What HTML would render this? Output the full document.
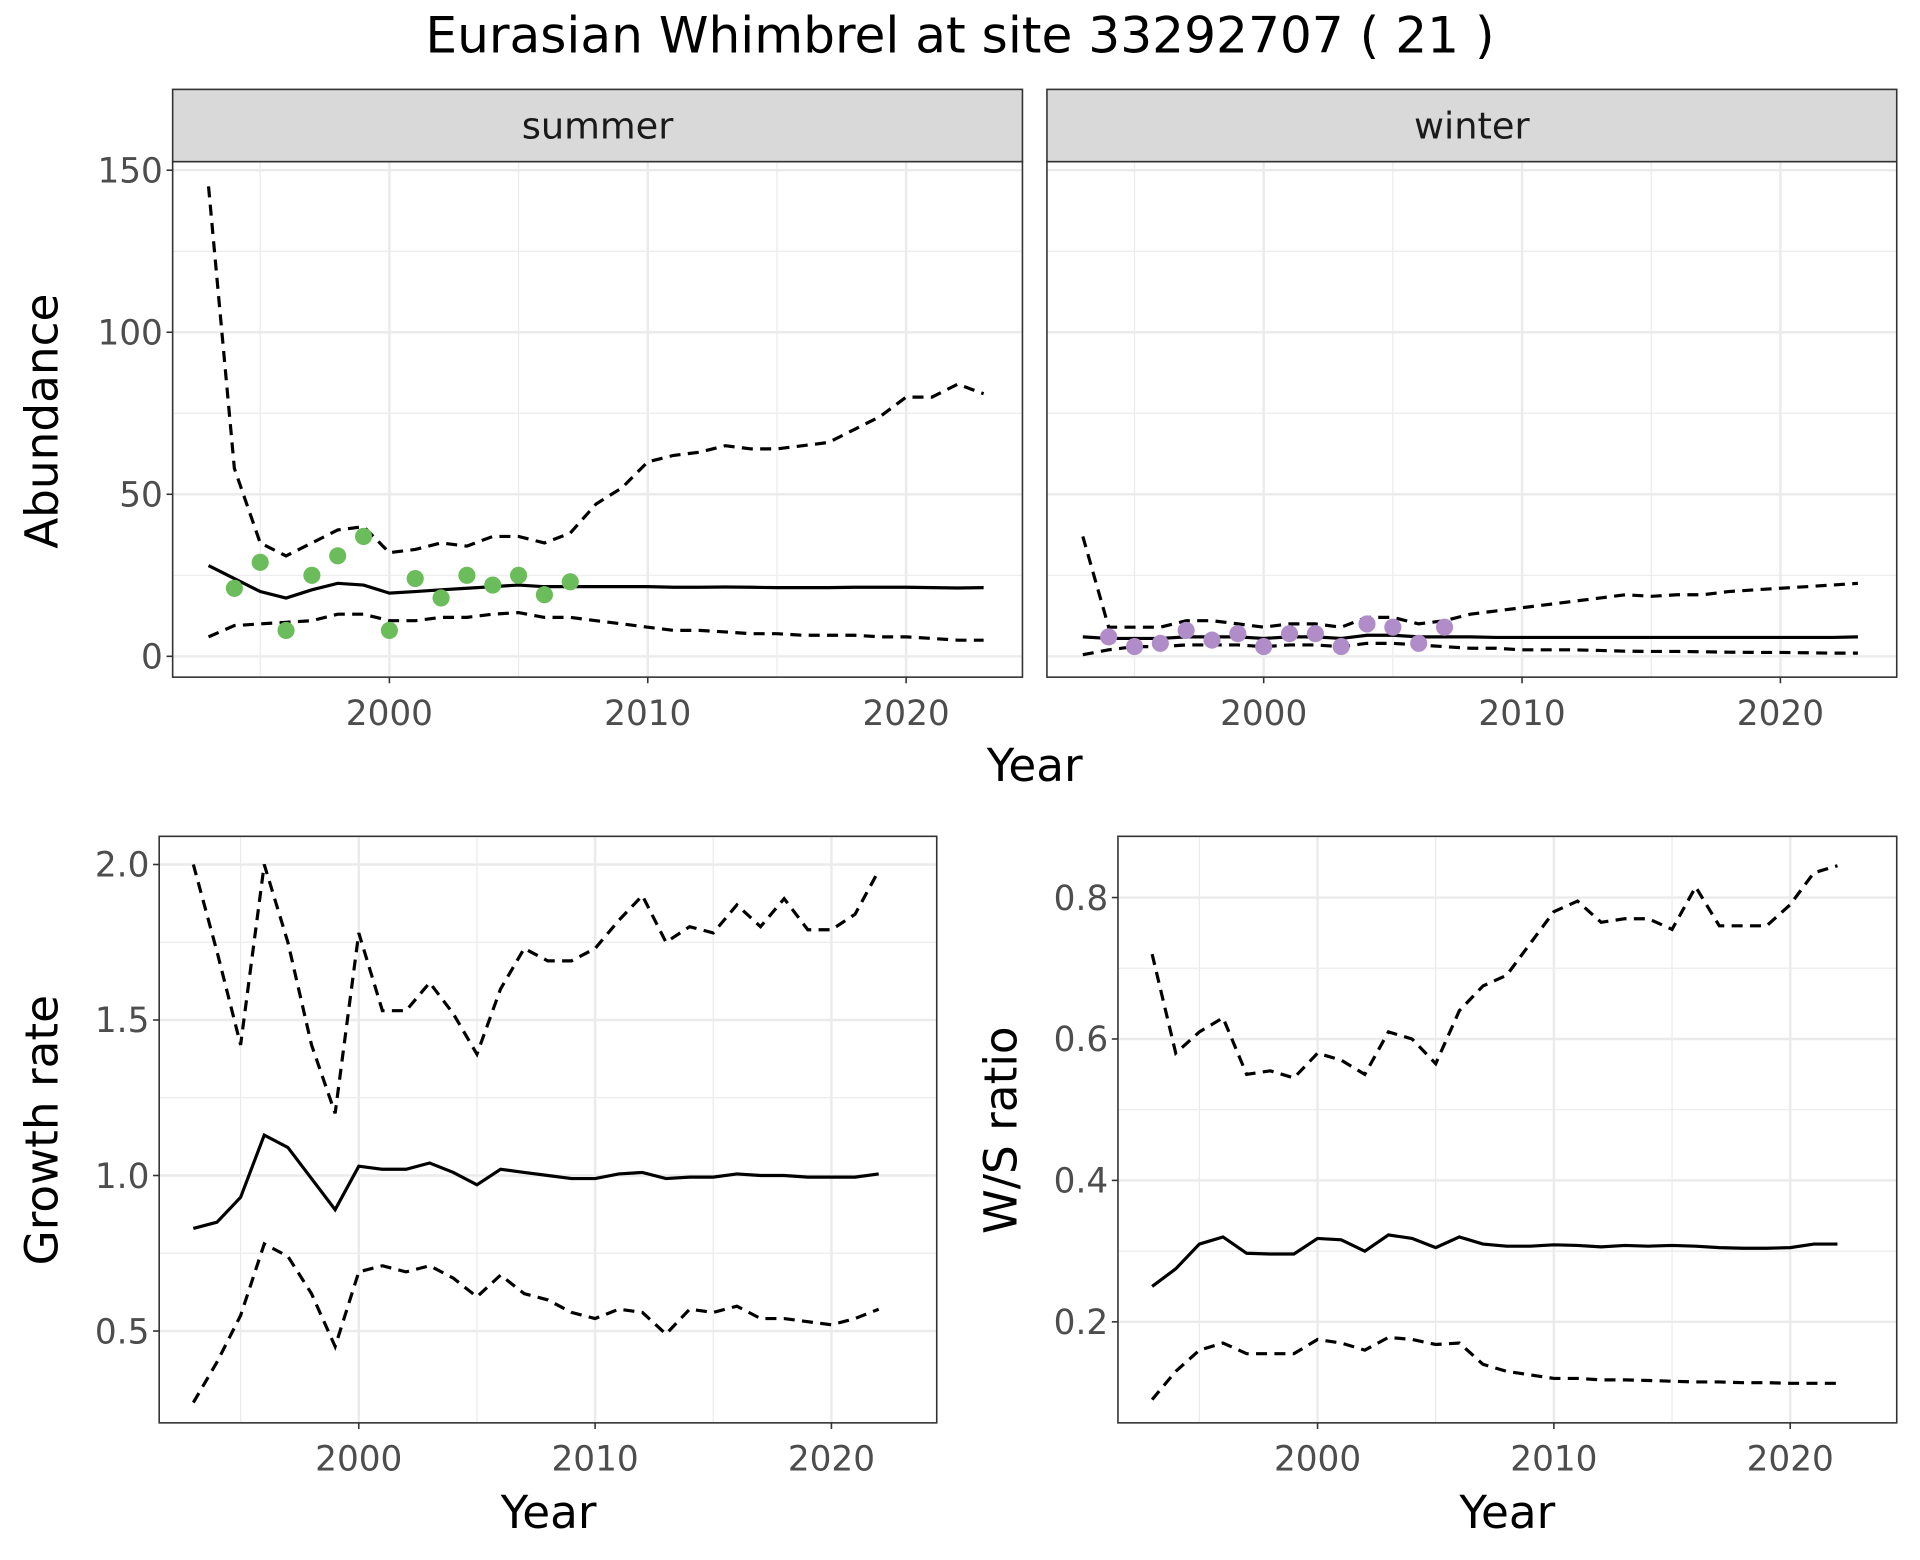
<!DOCTYPE html>
<html><head><meta charset="utf-8">
<style>
html,body{margin:0;padding:0;background:#fff;}
svg{display:block;}
text{font-family:"DejaVu Sans","Liberation Sans",sans-serif;}
</style></head>
<body>
<svg id="s" width="1920" height="1560" viewBox="0 0 1568 1274" xmlns="http://www.w3.org/2000/svg">
<rect width="1568" height="1274" fill="#fff"/>
<text x="784" y="43" font-size="41" text-anchor="middle" fill="#000">Eurasian Whimbrel at site 33292707 ( 21 )</text>
</svg>
<script>
(function(){
const S=document.getElementById('s');const NS='http://www.w3.org/2000/svg';
function el(t,a,txt){const e=document.createElementNS(NS,t);for(const k in a)e.setAttribute(k,a[k]);if(txt!==undefined)e.textContent=txt;S.appendChild(e);return e;}
function yrs(a,start){return a.map((v,i)=>[start+i,v]);}
const TF=28;
function panel(p){
 const X=x=>p.x0+(x-p.xa)*p.xs, Y=y=>p.y0+(y-p.ya)*p.ys;
 el('rect',{x:p.l,y:p.t,width:p.r-p.l,height:p.b-p.t,fill:'#fff'});
 p.yminor.forEach(v=>el('line',{x1:p.l,x2:p.r,y1:Y(v),y2:Y(v),stroke:'#ebebeb','stroke-width':1}));
 p.xminor.forEach(v=>el('line',{y1:p.t,y2:p.b,x1:X(v),x2:X(v),stroke:'#ebebeb','stroke-width':1}));
 p.yt.forEach(v=>el('line',{x1:p.l,x2:p.r,y1:Y(v),y2:Y(v),stroke:'#ebebeb','stroke-width':2}));
 p.xt.forEach(v=>el('line',{y1:p.t,y2:p.b,x1:X(v),x2:X(v),stroke:'#ebebeb','stroke-width':2}));
 p.series.forEach(s=>{el('polyline',{points:s.d.map(q=>X(q[0]).toFixed(1)+','+Y(q[1]).toFixed(1)).join(' '),fill:'none',stroke:'#000','stroke-width':2.6,'stroke-dasharray':s.dash?'9,6':'none'});});
 if(p.pts)p.pts.forEach(q=>el('circle',{cx:X(q[0]),cy:Y(q[1]),r:7,fill:p.pc}));
 el('rect',{x:p.l,y:p.t,width:p.r-p.l,height:p.b-p.t,fill:'none',stroke:'#333','stroke-width':1.3});
 if(p.ylab){p.yt.forEach(v=>{el('line',{x1:p.l-5,x2:p.l,y1:Y(v),y2:Y(v),stroke:'#333','stroke-width':1.3});el('text',{x:p.l-8,y:Y(v)+10,'font-size':TF,'text-anchor':'end',fill:'#4d4d4d'},p.fmt(v));});}
 p.xt.forEach(v=>{el('line',{y1:p.b,y2:p.b+5,x1:X(v),x2:X(v),stroke:'#333','stroke-width':1.3});el('text',{x:X(v),y:p.b+39,'font-size':TF,'text-anchor':'middle',fill:'#4d4d4d'},String(v));});
 if(p.strip){el('rect',{x:p.l,y:73,width:p.r-p.l,height:59,fill:'#d9d9d9',stroke:'#333','stroke-width':1.3});el('text',{x:(p.l+p.r)/2,y:113,'font-size':30,'text-anchor':'middle',fill:'#1a1a1a'},p.strip);}
}
const sumU=yrs([145,58,35,31,35,39,40,32,33,35,34,37,37,35,38,47,52,60,62,63,65,64,64,65,66,70,74,80,80,84,81],1993);
const sumM=yrs([28,24,20,18,20.5,22.5,22,19.5,20,20.5,21,21.5,22,21.5,21.5,21.5,21.5,21.5,21.3,21.3,21.4,21.3,21.2,21.2,21.2,21.3,21.3,21.3,21.2,21.1,21.2],1993);
const sumL=yrs([6,9.5,10,10.5,11,13,13,11,11,12,12,13,13.5,12,12,11,10,9,8,8,7.5,7,7,6.5,6.5,6.5,6,6,5.5,5,5],1993);
const sumP=[[1994,21],[1995,29],[1996,8],[1997,25],[1998,31],[1999,37],[2000,8],[2001,24],[2002,18],[2003,25],[2004,22],[2005,25],[2006,19],[2007,23]];
const winU=yrs([37,9,9,9,11,11,10,9,10,10,9,12,12,10,11,13,14,15,16,17,18,19,18.5,19,19,20,20.5,21,21.5,22,22.5],1993);
const winM=yrs([6,5.5,5.5,5.5,6,6,6,5.5,6,6,5.5,6.5,6.5,6,6,6,5.8,5.8,5.8,5.8,5.8,5.8,5.8,5.8,5.8,5.8,5.8,5.8,5.8,5.8,6],1993);
const winL=yrs([0.5,2,3,3,3.5,3.5,3.5,3,3.5,3.5,3,4,4,3.5,3,2.5,2.5,2,2,2,1.8,1.6,1.5,1.5,1.4,1.3,1.2,1.2,1.1,1,1],1993);
const winP=[[1994,6],[1995,3],[1996,4],[1997,8],[1998,5],[1999,7],[2000,3],[2001,7],[2002,7],[2003,3],[2004,10],[2005,9],[2006,4],[2007,9]];
const topCfg={t:132,b:553,y0:536,ya:0,ys:-(536-139)/150,xa:2000,xs:21.1,xt:[2000,2010,2020],xminor:[1995,2005,2015],yt:[0,50,100,150],yminor:[25,75,125],fmt:v=>String(v)};
panel(Object.assign({},topCfg,{l:141,r:835,x0:318,ylab:true,strip:'summer',series:[{d:sumU,dash:1},{d:sumM},{d:sumL,dash:1}],pts:sumP,pc:'#6abd5a'}));
panel(Object.assign({},topCfg,{l:855,r:1549,x0:1032,ylab:false,strip:'winter',series:[{d:winU,dash:1},{d:winM},{d:winL,dash:1}],pts:winP,pc:'#b08cc8'}));
const gU=yrs([2.0,1.72,1.42,2.0,1.75,1.42,1.2,1.78,1.53,1.53,1.62,1.52,1.39,1.6,1.73,1.69,1.69,1.73,1.82,1.9,1.75,1.8,1.78,1.87,1.8,1.89,1.79,1.79,1.84,1.98],1993);
const gM=yrs([0.83,0.85,0.93,1.13,1.09,0.99,0.89,1.03,1.02,1.02,1.04,1.01,0.97,1.02,1.01,1.0,0.99,0.99,1.005,1.01,0.99,0.995,0.995,1.005,1.0,1.0,0.995,0.995,0.995,1.005],1993);
const gL=yrs([0.27,0.4,0.55,0.78,0.74,0.62,0.45,0.69,0.71,0.69,0.71,0.67,0.61,0.68,0.62,0.6,0.56,0.54,0.57,0.56,0.49,0.57,0.56,0.58,0.54,0.54,0.53,0.52,0.54,0.57],1993);
panel({l:130,r:765,t:683,b:1162,x0:293,xa:2000,xs:19.3,y0:960,ya:1,ys:-254,xt:[2000,2010,2020],xminor:[1995,2005,2015],yt:[0.5,1,1.5,2],yminor:[0.75,1.25,1.75],fmt:v=>v.toFixed(1),ylab:true,series:[{d:gU,dash:1},{d:gM},{d:gL,dash:1}]});
const rU=yrs([0.72,0.58,0.61,0.63,0.55,0.555,0.545,0.58,0.57,0.55,0.61,0.6,0.565,0.64,0.675,0.69,0.735,0.78,0.795,0.765,0.77,0.77,0.755,0.815,0.76,0.76,0.76,0.79,0.835,0.845],1993);
const rM=yrs([0.25,0.275,0.31,0.32,0.297,0.296,0.296,0.318,0.316,0.3,0.323,0.318,0.305,0.32,0.31,0.307,0.307,0.309,0.308,0.306,0.308,0.307,0.308,0.307,0.305,0.304,0.304,0.305,0.31,0.31],1993);
const rL=yrs([0.09,0.13,0.16,0.17,0.155,0.155,0.155,0.175,0.17,0.16,0.178,0.175,0.168,0.17,0.14,0.13,0.125,0.12,0.12,0.118,0.118,0.117,0.116,0.115,0.115,0.114,0.114,0.113,0.113,0.113],1993);
panel({l:913,r:1549,t:683,b:1162,x0:1076,xa:2000,xs:19.3,y0:964,ya:0.4,ys:-577.5,xt:[2000,2010,2020],xminor:[1995,2005,2015],yt:[0.2,0.4,0.6,0.8],yminor:[0.3,0.5,0.7],fmt:v=>v.toFixed(1),ylab:true,series:[{d:rU,dash:1},{d:rM},{d:rL,dash:1}]});
const AF=37;
el('text',{x:845,y:638,'font-size':AF,'text-anchor':'middle',fill:'#000'},'Year');
el('text',{x:448,y:1248,'font-size':AF,'text-anchor':'middle',fill:'#000'},'Year');
el('text',{x:1231,y:1248,'font-size':AF,'text-anchor':'middle',fill:'#000'},'Year');
el('text',{x:0,y:0,'font-size':AF,'text-anchor':'middle',fill:'#000',transform:'translate(47,344) rotate(-90)'},'Abundance');
el('text',{x:0,y:0,'font-size':AF,'text-anchor':'middle',fill:'#000',transform:'translate(47,923) rotate(-90)'},'Growth rate');
el('text',{x:0,y:0,'font-size':AF,'text-anchor':'middle',fill:'#000',transform:'translate(830,923) rotate(-90)'},'W/S ratio');
})();
</script>
</body></html>
